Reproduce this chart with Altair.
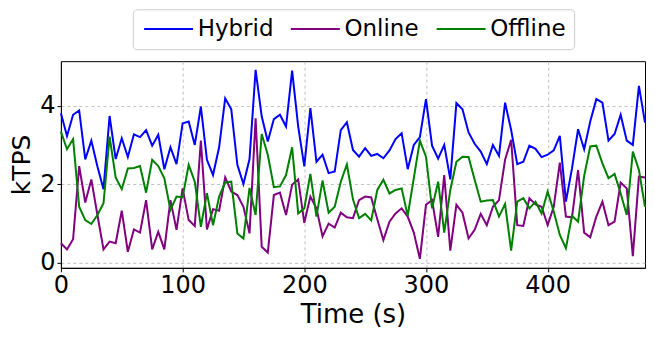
import altair as alt
import pandas as pd

time_s = list(range(0, 481, 5))

hybrid = [3.81, 3.23, 3.77, 3.88, 2.63, 3.11, 2.45, 1.87, 3.74, 2.64,
          3.17, 2.69, 3.27, 3.20, 3.38, 2.98, 3.26, 2.38, 2.94, 2.51,
          3.55, 3.60, 3.00, 3.98, 2.62, 2.23, 2.94, 4.19, 3.91, 2.49,
          2.00, 2.64, 4.92, 3.73, 3.09, 3.66, 3.77, 3.47, 4.90, 3.47,
          2.45, 3.94, 2.57, 2.75, 2.28, 2.32, 3.38, 3.58, 2.87, 2.70,
          2.92, 2.72, 2.77, 2.66, 2.86, 3.15, 3.30, 2.38, 3.00, 3.20,
          4.17, 2.98, 2.65, 3.00, 2.12, 4.07, 3.91, 3.32, 3.03, 2.83,
          2.51, 3.00, 2.72, 4.08, 3.38, 2.51, 2.57, 2.98, 2.90, 2.69,
          2.75, 2.86, 3.23, 1.55, 2.40, 3.40, 2.89, 3.60, 4.17, 4.08,
          3.11, 3.28, 3.77, 3.11, 3.00, 4.51, 3.57]

online = [0.49, 0.33, 0.59, 2.46, 1.53, 2.12, 1.21, 0.33, 0.53, 0.49,
          1.32, 0.27, 0.84, 0.76, 1.59, 0.33, 0.78, 0.33, 1.59, 0.83,
          1.89, 1.08, 0.93, 3.11, 0.84, 1.36, 1.32, 2.17, 1.81, 1.72,
          1.42, 0.74, 3.68, 0.40, 0.25, 1.72, 1.78, 1.21, 1.98, 2.12,
          1.01, 1.68, 1.38, 0.66, 0.99, 0.89, 1.27, 1.15, 1.13, 1.59,
          1.68, 1.66, 1.10, 0.57, 1.04, 1.25, 1.38, 1.17, 0.76, 0.09,
          1.47, 1.59, 0.65, 2.23, 0.30, 1.47, 1.27, 0.61, 0.83, 1.24,
          0.95, 1.42, 1.59, 2.62, 3.13, 0.95, 0.93, 1.64, 1.48, 1.42,
          0.95, 1.42, 2.55, 1.17, 1.15, 2.36, 0.76, 0.64, 1.17, 1.55,
          0.95, 1.04, 2.04, 1.89, 0.16, 2.19, 2.17]

offline = [3.34, 2.89, 3.15, 1.42, 1.08, 0.98, 1.21, 1.51, 3.21, 2.17,
           1.87, 2.40, 2.41, 2.46, 1.78, 2.62, 2.46, 2.15, 1.34, 1.68,
           1.66, 2.49, 2.06, 0.91, 1.77, 0.95, 1.68, 2.04, 2.06, 0.74,
           0.61, 1.90, 1.21, 3.28, 2.75, 1.92, 1.94, 2.23, 2.94, 1.25,
           1.38, 2.26, 1.17, 2.09, 1.27, 1.42, 2.06, 2.50, 1.61, 1.13,
           1.24, 1.07, 1.85, 2.11, 1.76, 1.85, 1.89, 1.19, 2.15, 3.11,
           2.70, 1.38, 2.06, 0.76, 1.85, 2.57, 2.70, 2.69, 2.11, 1.55,
           1.58, 1.59, 1.17, 1.49, 0.30, 1.55, 1.64, 1.38, 1.55, 1.25,
           1.81, 1.30, 0.70, 0.36, 1.19, 1.04, 2.21, 2.96, 2.98, 2.53,
           2.15, 2.26, 1.76, 1.21, 2.83, 2.36, 1.42]

series_names = ["Hybrid", "Online", "Offline"]
series_colors = ["#0000ff", "#800080", "#008000"]
x_ticks = [0, 100, 200, 300, 400]
y_ticks = [0, 2, 4]

rows = []
for name, vals in zip(series_names, [hybrid, online, offline]):
    for t, v in zip(time_s, vals):
        rows.append({"Time": t, "kTPS": v, "Series": name})
df = pd.DataFrame(rows)

chart = alt.Chart(df).mark_line(strokeWidth=2).encode(
    x=alt.X("Time:Q",
            scale=alt.Scale(domain=[0, 480], nice=False, zero=False),
            axis=alt.Axis(title="Time (s)", values=x_ticks, format="d",
                          labelFlush=False)),
    y=alt.Y("kTPS:Q",
            scale=alt.Scale(domain=[-0.14, 5.14], nice=False, zero=False),
            axis=alt.Axis(title="kTPS", values=y_ticks, format="d",
                          titleX=-31, titleBaseline="alphabetic")),
    color=alt.Color("Series:N",
                    scale=alt.Scale(domain=series_names, range=series_colors),
                    sort=series_names,
                    legend=alt.Legend(title=None, orient="none", legendX=72, legendY=-52,
                                      direction="horizontal", symbolType="M-1,0H5",
                                      symbolSize=267, symbolStrokeWidth=2,
                                      labelFontSize=23, labelOffset=34, columnPadding=13,
                                      padding=8, strokeColor="#cccccc", cornerRadius=4,
                                      fillColor="white", labelColor="black")),
    order=alt.Order("Time:Q"),
).properties(
    width=585, height=207,
    autosize=alt.AutoSizeParams(type="none"),
    padding={"left": 53, "top": 53, "right": 2, "bottom": 60},
).configure(
    font="DejaVu Sans",
).configure_view(
    stroke="black", strokeWidth=1,
).configure_axis(
    labelFontSize=24, titleFontSize=25, labelColor="black", titleColor="black",
    titleFontWeight="normal", domainColor="black", tickColor="black",
    tickSize=4, labelPadding=2, gridColor="#b0b0b0", gridDash=[3, 3],
    gridWidth=0.8, domain=True,
).configure_axisX(
    titleFontSize=26, titlePadding=4,
)

chart.save("out.html", embed_options={"renderer": "svg", "actions": False})
